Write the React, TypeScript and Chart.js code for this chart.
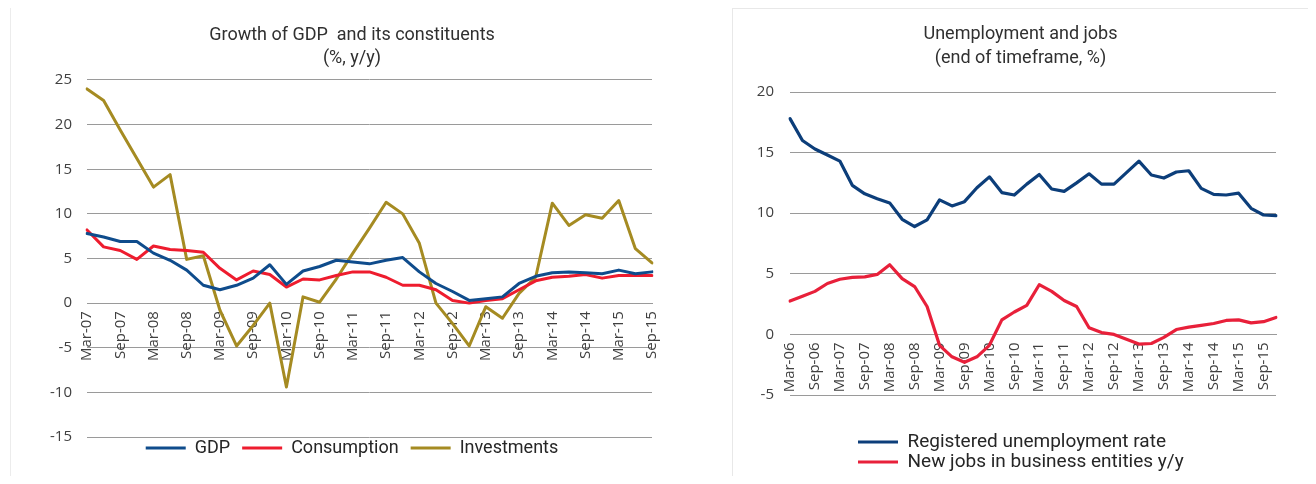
import React, { useEffect, useRef } from "react";
import { Chart, registerables } from "chart.js";

Chart.register(...registerables);

// ---------- Left chart data ----------
const gdpQuarters = [
  "Mar-07", "Jun-07", "Sep-07", "Dec-07",
  "Mar-08", "Jun-08", "Sep-08", "Dec-08",
  "Mar-09", "Jun-09", "Sep-09", "Dec-09",
  "Mar-10", "Jun-10", "Sep-10", "Dec-10",
  "Mar-11", "Jun-11", "Sep-11", "Dec-11",
  "Mar-12", "Jun-12", "Sep-12", "Dec-12",
  "Mar-13", "Jun-13", "Sep-13", "Dec-13",
  "Mar-14", "Jun-14", "Sep-14", "Dec-14",
  "Mar-15", "Jun-15", "Sep-15",
];
const gdpGrowth = [
  7.8, 7.4, 6.9, 6.9, 5.6, 4.8, 3.7, 2.0, 1.5, 2.0, 2.8, 4.3, 2.1, 3.6, 4.1, 4.8,
  4.6, 4.4, 4.8, 5.1, 3.5, 2.2, 1.3, 0.3, 0.5, 0.7, 2.2, 3.0, 3.4, 3.5, 3.4, 3.3,
  3.7, 3.3, 3.5,
];
const consumptionGrowth = [
  8.2, 6.3, 5.9, 4.9, 6.4, 6.0, 5.9, 5.7, 3.9, 2.6, 3.6, 3.2, 1.8, 2.7, 2.6, 3.1,
  3.5, 3.5, 2.9, 2.0, 2.0, 1.5, 0.3, 0.0, 0.3, 0.5, 1.5, 2.5, 2.9, 3.0, 3.2, 2.8,
  3.1, 3.1, 3.1,
];
const investmentsGrowth = [
  24.0, 22.7, 19.4, 16.2, 13.0, 14.4, 4.9, 5.3, -0.8, -4.8, -2.5, 0.0, -9.4, 0.7, 0.1, 2.7,
  5.6, 8.4, 11.3, 10.0, 6.7, 0.0, -2.3, -4.8, -0.4, -1.7, 1.1, 2.9, 11.2, 8.7, 9.9, 9.5,
  11.5, 6.1, 4.5,
];
const leftTitle = ["Growth of GDP  and its constituents", "(%, y/y)"];
const leftYRange = [-15, 25];
const leftYStep = 5;

// ---------- Right chart data ----------
const jobsQuarters = [
  "Mar-06", "Jun-06", "Sep-06", "Dec-06",
  "Mar-07", "Jun-07", "Sep-07", "Dec-07",
  "Mar-08", "Jun-08", "Sep-08", "Dec-08",
  "Mar-09", "Jun-09", "Sep-09", "Dec-09",
  "Mar-10", "Jun-10", "Sep-10", "Dec-10",
  "Mar-11", "Jun-11", "Sep-11", "Dec-11",
  "Mar-12", "Jun-12", "Sep-12", "Dec-12",
  "Mar-13", "Jun-13", "Sep-13", "Dec-13",
  "Mar-14", "Jun-14", "Sep-14", "Dec-14",
  "Mar-15", "Jun-15", "Sep-15", "Dec-15",
];
const unemploymentRate = [
  17.8, 16.0, 15.3, 14.8, 14.3, 12.3, 11.6, 11.2, 10.85, 9.5,
  8.9, 9.45, 11.1, 10.6, 10.95, 12.1, 13.0, 11.7, 11.5, 12.4,
  13.2, 12.0, 11.8, 12.5, 13.25, 12.4, 12.4, 13.35, 14.3, 13.15,
  12.9, 13.4, 13.5, 12.05, 11.55, 11.5, 11.65, 10.4, 9.85, 9.8,
];
const newJobs = [
  2.75, 3.15, 3.55, 4.2, 4.55, 4.7, 4.75, 4.95, 5.75, 4.6,
  3.95, 2.3, -0.9, -1.85, -2.3, -1.85, -0.9, 1.2, 1.85, 2.4,
  4.1, 3.55, 2.8, 2.3, 0.55, 0.15, 0.0, -0.4, -0.8, -0.75,
  -0.25, 0.4, 0.6, 0.75, 0.9, 1.15, 1.2, 0.95, 1.05, 1.4,
];
const rightTitle = ["Unemployment and jobs", "(end of timeframe, %)"];
const rightYRange = [-5, 20];
const rightYStep = 5;

// ---------- Styles ----------
const GDP_BLUE = "#0f4c8c";
const CONS_RED = "#ee1c2e";
const INV_GOLD = "#a58b22";
const UNEMP_BLUE = "#0c3e7a";
const JOBS_RED = "#e8203a";
const GRID_COLOR = "#9a9a9a";
const TICK_COLOR = "#404040";
const TITLE_COLOR = "#303030";
const LEGEND_COLOR = "#262626";
const TITLE_FONT = "Roboto, 'Noto Sans', sans-serif";
const TICK_FONT = "'Open Sans', 'Noto Sans', sans-serif";

function makeLegendShift(dx: number, dy: number) {
  return {
    id: "legendShift",
    afterLayout(chart: any) {
      const lg = chart.legend;
      if (!lg) return;
      lg.left += dx;
      lg.right += dx;
      lg.top += dy;
      lg.bottom += dy;
    },
  };
}

function lineDataset(label: string, data: number[], color: string, width = 3) {
  return {
    label,
    data,
    borderColor: color,
    backgroundColor: color,
    borderWidth: width,
    pointRadius: 0,
    pointHoverRadius: 0,
    tension: 0,
    borderJoinStyle: "round",
    borderCapStyle: "round",
    fill: false,
  };
}

function xScale(labels: string[]) {
  return {
    type: "category",
    position: { y: 0 },
    offset: false,
    grid: { display: false, drawTicks: false },
    border: { display: true, color: GRID_COLOR, width: 1 },
    ticks: {
      autoSkip: false,
      minRotation: 90,
      maxRotation: 90,
      padding: 8,
      color: TICK_COLOR,
      font: { family: TICK_FONT, size: 15 },
      callback: (_v: any, i: number) => (i % 2 === 0 ? labels[i] : ""),
    },
  };
}

function yScale(range: number[], step: number, width: number, pad: number) {
  return {
    type: "linear",
    position: "left",
    min: range[0],
    max: range[1],
    ticks: {
      stepSize: step,
      padding: pad,
      color: TICK_COLOR,
      font: { family: TICK_FONT, size: 15 },
    },
    grid: { color: GRID_COLOR, drawTicks: false, lineWidth: 1 },
    border: { display: false },
    afterFit: (s: any) => {
      s.width = width;
    },
  };
}

// empty right-hand spacer axis (keeps the title and legend centred on the card)
function spacerScale(width: number) {
  return {
    type: "linear",
    axis: "y",
    position: "right",
    display: true,
    ticks: { display: false },
    grid: { display: false, drawTicks: false },
    border: { display: false },
    afterFit: (s: any) => {
      s.width = width;
    },
  };
}

const leftConfig = (): any => ({
  type: "line",
  data: {
    labels: gdpQuarters,
    datasets: [
      lineDataset("GDP", gdpGrowth, GDP_BLUE),
      lineDataset("Consumption", consumptionGrowth, CONS_RED),
      lineDataset("Investments", investmentsGrowth, INV_GOLD),
    ],
  },
  options: {
    responsive: false,
    animation: false,
    events: [],
    layout: { padding: { left: 0, right: 0, top: 0, bottom: 6 } },
    plugins: {
      title: {
        display: true,
        text: leftTitle,
        color: TITLE_COLOR,
        font: { family: TITLE_FONT, size: 18, weight: "normal", lineHeight: 1.28 },
        padding: { top: 15.5, bottom: 10.4 },
      },
      legend: {
        position: "bottom",
        align: "center",
        labels: {
          usePointStyle: true,
          pointStyle: "line",
          pointStyleWidth: 40,
          padding: 12,
          color: LEGEND_COLOR,
          font: { family: TITLE_FONT, size: 18 },
        },
      },
      tooltip: { enabled: false },
    },
    scales: {
      x: xScale(gdpQuarters),
      y: yScale(leftYRange, leftYStep, 79, 15),
      yRightSpacer: spacerScale(44),
    },
  },
  plugins: [makeLegendShift(0, -10)],
});

const rightConfig = (): any => ({
  type: "line",
  data: {
    labels: jobsQuarters,
    datasets: [
      lineDataset("Registered unemployment rate", unemploymentRate, UNEMP_BLUE, 3.2),
      lineDataset("New jobs in business entities y/y", newJobs, JOBS_RED, 3.2),
    ],
  },
  options: {
    responsive: false,
    animation: false,
    events: [],
    layout: { padding: { left: 0, right: 0, top: 0, bottom: 39 } },
    plugins: {
      title: {
        display: true,
        text: rightTitle,
        color: TITLE_COLOR,
        font: { family: TITLE_FONT, size: 18, weight: "normal", lineHeight: 1.3334 },
        padding: { top: 13, bottom: 22 },
      },
      legend: {
        position: "bottom",
        align: "start",
        labels: {
          usePointStyle: true,
          pointStyle: "line",
          pointStyleWidth: 40,
          padding: 1,
          color: LEGEND_COLOR,
          font: { family: TITLE_FONT, size: 19 },
        },
      },
      tooltip: { enabled: false },
    },
    scales: {
      x: xScale(jobsQuarters),
      y: yScale(rightYRange, rightYStep, 57, 16),
      yRightSpacer: spacerScale(32),
    },
  },
  plugins: [makeLegendShift(124, 36.5)],
});

function ChartCanvas({ width, height, config }: { width: number; height: number; config: () => any }) {
  const ref = useRef<HTMLCanvasElement | null>(null);
  useEffect(() => {
    if (!ref.current) return;
    const chart = new Chart(ref.current, config());
    return () => chart.destroy();
  }, []);
  return <canvas ref={ref} width={width} height={height} style={{ display: "block", width, height }} />;
}

export default function App() {
  return (
    <div style={{ position: "relative", width: 1300, height: 468, overflow: "hidden", background: "#ffffff" }}>
      <div style={{ position: "absolute", left: 2, top: 0, width: 0, height: 468, borderLeft: "1px solid #ececec" }} />
      <div style={{ position: "absolute", left: 0, top: 0 }}>
        <ChartCanvas width={688} height={475} config={leftConfig} />
      </div>
      <div
        style={{
          position: "absolute",
          left: 724,
          top: 0,
          width: 576,
          height: 470,
          border: "1px solid #e8e8e8",
          borderBottom: "none",
        }}
      >
        <ChartCanvas width={575} height={475} config={rightConfig} />
      </div>
    </div>
  );
}
